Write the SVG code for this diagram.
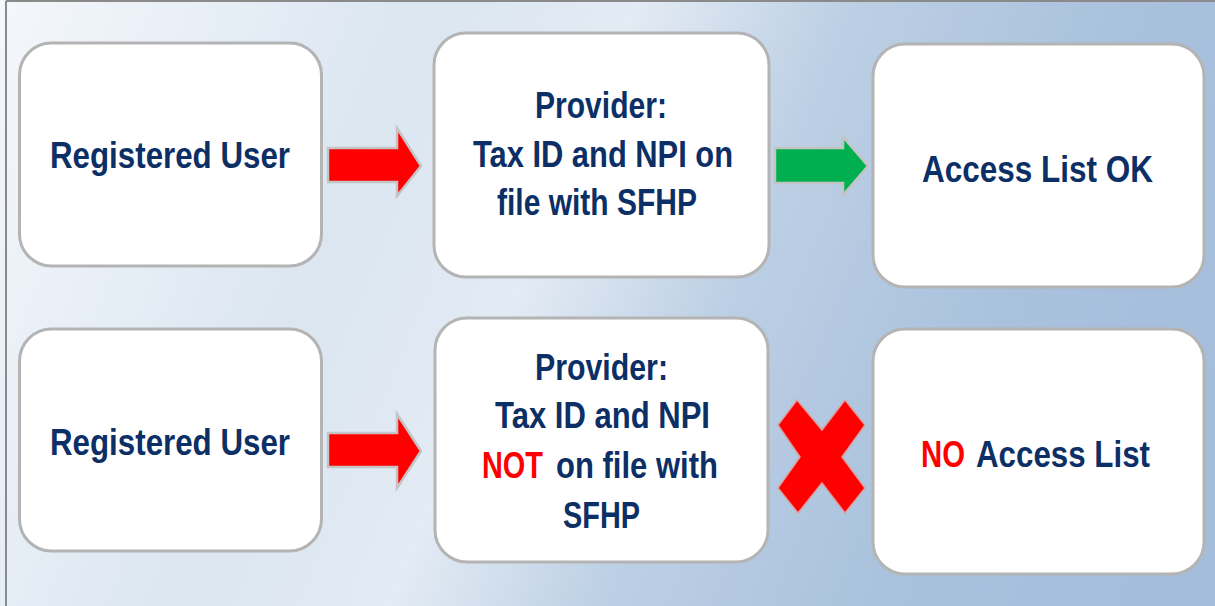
<svg xmlns="http://www.w3.org/2000/svg" width="1215" height="606" viewBox="0 0 1215 606">
<defs>
<linearGradient id="bg" x1="0" y1="0" x2="1215" y2="500" gradientUnits="userSpaceOnUse">
<stop offset="0" stop-color="#f4f7fb"/>
<stop offset="0.3" stop-color="#dbe6f1"/>
<stop offset="0.45" stop-color="#e3ebf4"/>
<stop offset="0.6" stop-color="#bccfe4"/>
<stop offset="0.8" stop-color="#a9c1dd"/>
<stop offset="1" stop-color="#a4bddb"/>
</linearGradient>
<style>
.box{fill:#ffffff;stroke:#b4b4b4;stroke-width:3}
.t{font-family:"Liberation Sans",Arial,sans-serif;font-weight:bold;font-size:36px;fill:#0c2f66;text-anchor:middle}
.s{text-anchor:start}
.red{fill:#ff0000}
.arr{stroke:#c4c4c4;stroke-width:2.5;stroke-linejoin:miter}
</style>
</defs>
<rect x="0" y="0" width="1215" height="606" fill="url(#bg)"/>
<line x1="6" y1="1" x2="6" y2="606" stroke="#8a8a8a" stroke-width="2"/>
<line x1="6" y1="1" x2="1215" y2="1" stroke="#8a8a8a" stroke-width="2"/>

<g id="user1">
<rect class="box" x="19.5" y="43" width="302" height="223" rx="32"/>
<text class="t" x="170" y="168" textLength="240" lengthAdjust="spacingAndGlyphs">Registered  User</text>
</g>
<g id="provider1">
<rect class="box" x="434" y="33" width="335" height="244" rx="32"/>
<text class="t" x="601" y="118" textLength="132" lengthAdjust="spacingAndGlyphs">Provider:</text>
<text class="t" x="603" y="167" textLength="260" lengthAdjust="spacingAndGlyphs">Tax ID and NPI on</text>
<text class="t" x="597" y="215" textLength="200" lengthAdjust="spacingAndGlyphs">file  with  SFHP</text>
</g>
<g id="access1">
<rect class="box" x="873" y="44" width="331" height="243" rx="32"/>
<text class="t" x="1037.5" y="182" textLength="231" lengthAdjust="spacingAndGlyphs">Access  List OK</text>
</g>

<g id="user2">
<rect class="box" x="19.5" y="329" width="302" height="222" rx="32"/>
<text class="t" x="170" y="455" textLength="240" lengthAdjust="spacingAndGlyphs">Registered  User</text>
</g>
<g id="provider2">
<rect class="box" x="435" y="318" width="333" height="244" rx="32"/>
<text class="t" x="601.5" y="380" textLength="133" lengthAdjust="spacingAndGlyphs">Provider:</text>
<text class="t" x="602.5" y="428" textLength="215" lengthAdjust="spacingAndGlyphs">Tax ID and NPI</text>
<text class="t s red" x="482" y="478" textLength="61" lengthAdjust="spacingAndGlyphs">NOT</text>
<text class="t s" x="556" y="478" textLength="162" lengthAdjust="spacingAndGlyphs">on file  with</text>
<text class="t" x="601.5" y="528" textLength="77" lengthAdjust="spacingAndGlyphs">SFHP</text>
</g>
<g id="access2">
<rect class="box" x="873" y="329" width="331" height="245" rx="32"/>
<text class="t s red" x="921" y="467" textLength="44" lengthAdjust="spacingAndGlyphs">NO</text>
<text class="t s" x="976" y="467" textLength="174" lengthAdjust="spacingAndGlyphs">Access  List</text>
</g>

<g id="connectors">
<polygon class="arr" fill="#ff0000" points="328,148 397,148 397,128 421,166 397,196 397,182 328,182"/>
<polygon class="arr" fill="#00b050" points="775,148 843,148 843,137 868,166 843,195 843,183 775,183"/>
<polygon class="arr" fill="#ff0000" points="328,433 397,433 397,414 421,451 397,488 397,467 328,467"/>
<polygon fill="#ff0000" stroke="#d9a0a0" stroke-width="1.5" points="797,400 822,430 845,400 865,425 842,457 865,488 845,513 822,483 798,513 778,488 800,457 778,425"/>
</g>
</svg>
